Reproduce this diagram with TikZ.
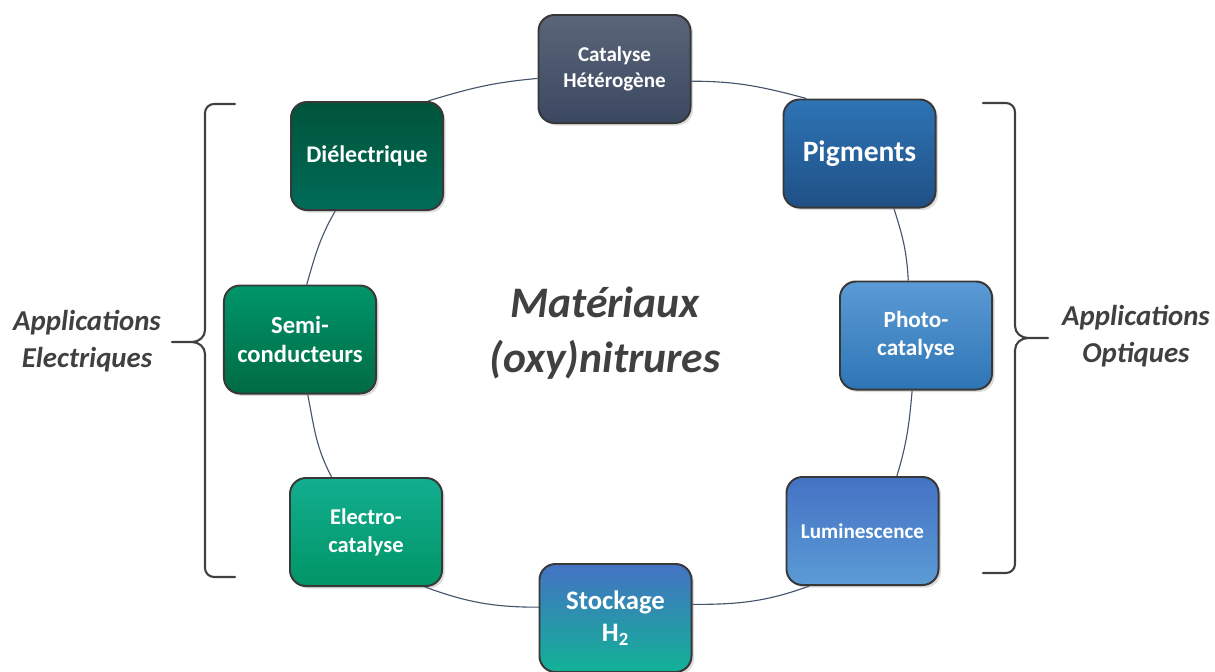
\documentclass[tikz,border=0pt]{standalone}
\usepackage{fontspec}
\setmainfont{Carlito}
\usetikzlibrary{shadows,backgrounds}
\definecolor{catTop}{HTML}{5A6578}
\definecolor{catBot}{HTML}{3B4861}
\definecolor{pigTop}{HTML}{2E74B5}
\definecolor{pigBot}{HTML}{1F5085}
\definecolor{dieTop}{HTML}{00533A}
\definecolor{dieBot}{HTML}{006C58}
\definecolor{semiTop}{HTML}{00956A}
\definecolor{semiBot}{HTML}{006B43}
\definecolor{elecTop}{HTML}{12AE90}
\definecolor{elecBot}{HTML}{019566}
\definecolor{stoTop}{HTML}{4472C4}
\definecolor{stoBot}{HTML}{12B296}
\definecolor{lumTop}{HTML}{4472C4}
\definecolor{lumBot}{HTML}{5B9BD5}
\definecolor{phoTop}{HTML}{5B9BD5}
\definecolor{phoBot}{HTML}{2E75B6}
\definecolor{boxline}{HTML}{383838}
\definecolor{linkc}{HTML}{44546A}
\definecolor{bracec}{HTML}{404040}
\definecolor{labelc}{HTML}{404040}
\begin{document}
\begin{tikzpicture}[x=0.025cm,y=0.025cm,
  box/.style={rounded corners=0.4cm, draw=boxline, line width=1.4pt,
    minimum width=3.8cm, minimum height=2.7cm, inner sep=0pt, align=center,
    text=white, drop shadow={shadow xshift=1.8pt, shadow yshift=-1.8pt, opacity=0.28}},
  link/.style={draw=linkc, line width=0.8pt},
  brace/.style={draw=bracec, line width=1.5pt, line join=round, line cap=round},
  lbl/.style={text=labelc, align=center}]
\useasboundingbox (0,0) rectangle (1215,-671);

\node[box, top color=catTop, bottom color=catBot, font=\bfseries\fontsize{15}{18}\selectfont]
  (cat) at (614.5,-69) {Catalyse\\Hétérogène};
\node[box, top color=pigTop, bottom color=pigBot, font=\bfseries\fontsize{21}{25}\selectfont]
  (pig) at (859.5,-153.5) {Pigments};
\node[box, top color=phoTop, bottom color=phoBot, font=\bfseries\fontsize{16.5}{20}\selectfont]
  (pho) at (916,-335.5) {Photo-\\catalyse};
\node[box, top color=lumTop, bottom color=lumBot, font=\bfseries\fontsize{15}{18}\selectfont]
  (lum) at (862.5,-531) {Luminescence};
\node[box, top color=stoTop, bottom color=stoBot, font=\bfseries\fontsize{19}{23}\selectfont]
  (sto) at (615.5,-618) {Stockage\\H\textsubscript{2}};
\node[box, top color=elecTop, bottom color=elecBot, font=\bfseries\fontsize{16}{20}\selectfont]
  (elec) at (366,-532) {Electro-\\catalyse};
\node[box, top color=semiTop, bottom color=semiBot, font=\bfseries\fontsize{17.5}{21}\selectfont]
  (semi) at (300,-339.5) {Semi-\\conducteurs};
\node[box, top color=dieTop, bottom color=dieBot, font=\bfseries\fontsize{17}{20}\selectfont]
  (die) at (367,-156) {Diélectrique};

\begin{pgfonlayer}{background}
\draw[link] (cat.-9) to[out=0,in=165] (pig.134);
\draw[link] (pig.-58) to[out=-72,in=93] (pho.98);
\draw[link] (pho.-94) to[out=-95,in=73] (lum.58);
\draw[link] (lum.-134) to[out=-160,in=0] (sto.10);
\draw[link] (sto.172) to[out=180,in=-20] (elec.-43);
\draw[link] (elec.122) to[out=118,in=-79] (semi.-82);
\draw[link] (semi.83) to[out=74,in=-120] (die.-120);
\draw[link] (die.42) to[out=17,in=185] (cat.187);
\end{pgfonlayer}

\node[lbl, font=\bfseries\itshape\fontsize{31}{39}\selectfont] (mat) at (605,-333) {Matériaux\\(oxy)nitrures};
\node[lbl, font=\bfseries\itshape\fontsize{20.5}{26.5}\selectfont] (appe) at (87,-341) {Applications\\Electriques};
\node[lbl, font=\bfseries\itshape\fontsize{20.5}{26.5}\selectfont] (appo) at (1136,-336) {Applications\\Optiques};

\draw[brace] (235,-104) -- (214,-104) to[out=180,in=90] (205,-113) -- (205,-330)
  to[out=-90,in=0] (192,-342) -- (172,-342)
  (192,-342) to[out=0,in=90] (205,-354) -- (205,-568) to[out=-90,in=180] (214,-577) -- (235,-577);
\draw[brace] (983,-103) -- (1006,-103) to[out=0,in=90] (1015,-112) -- (1015,-326)
  to[out=-90,in=180] (1028,-338) -- (1048,-338)
  (1028,-338) to[out=180,in=90] (1015,-350) -- (1015,-564) to[out=-90,in=0] (1006,-573) -- (983,-573);
\end{tikzpicture}
\end{document}
